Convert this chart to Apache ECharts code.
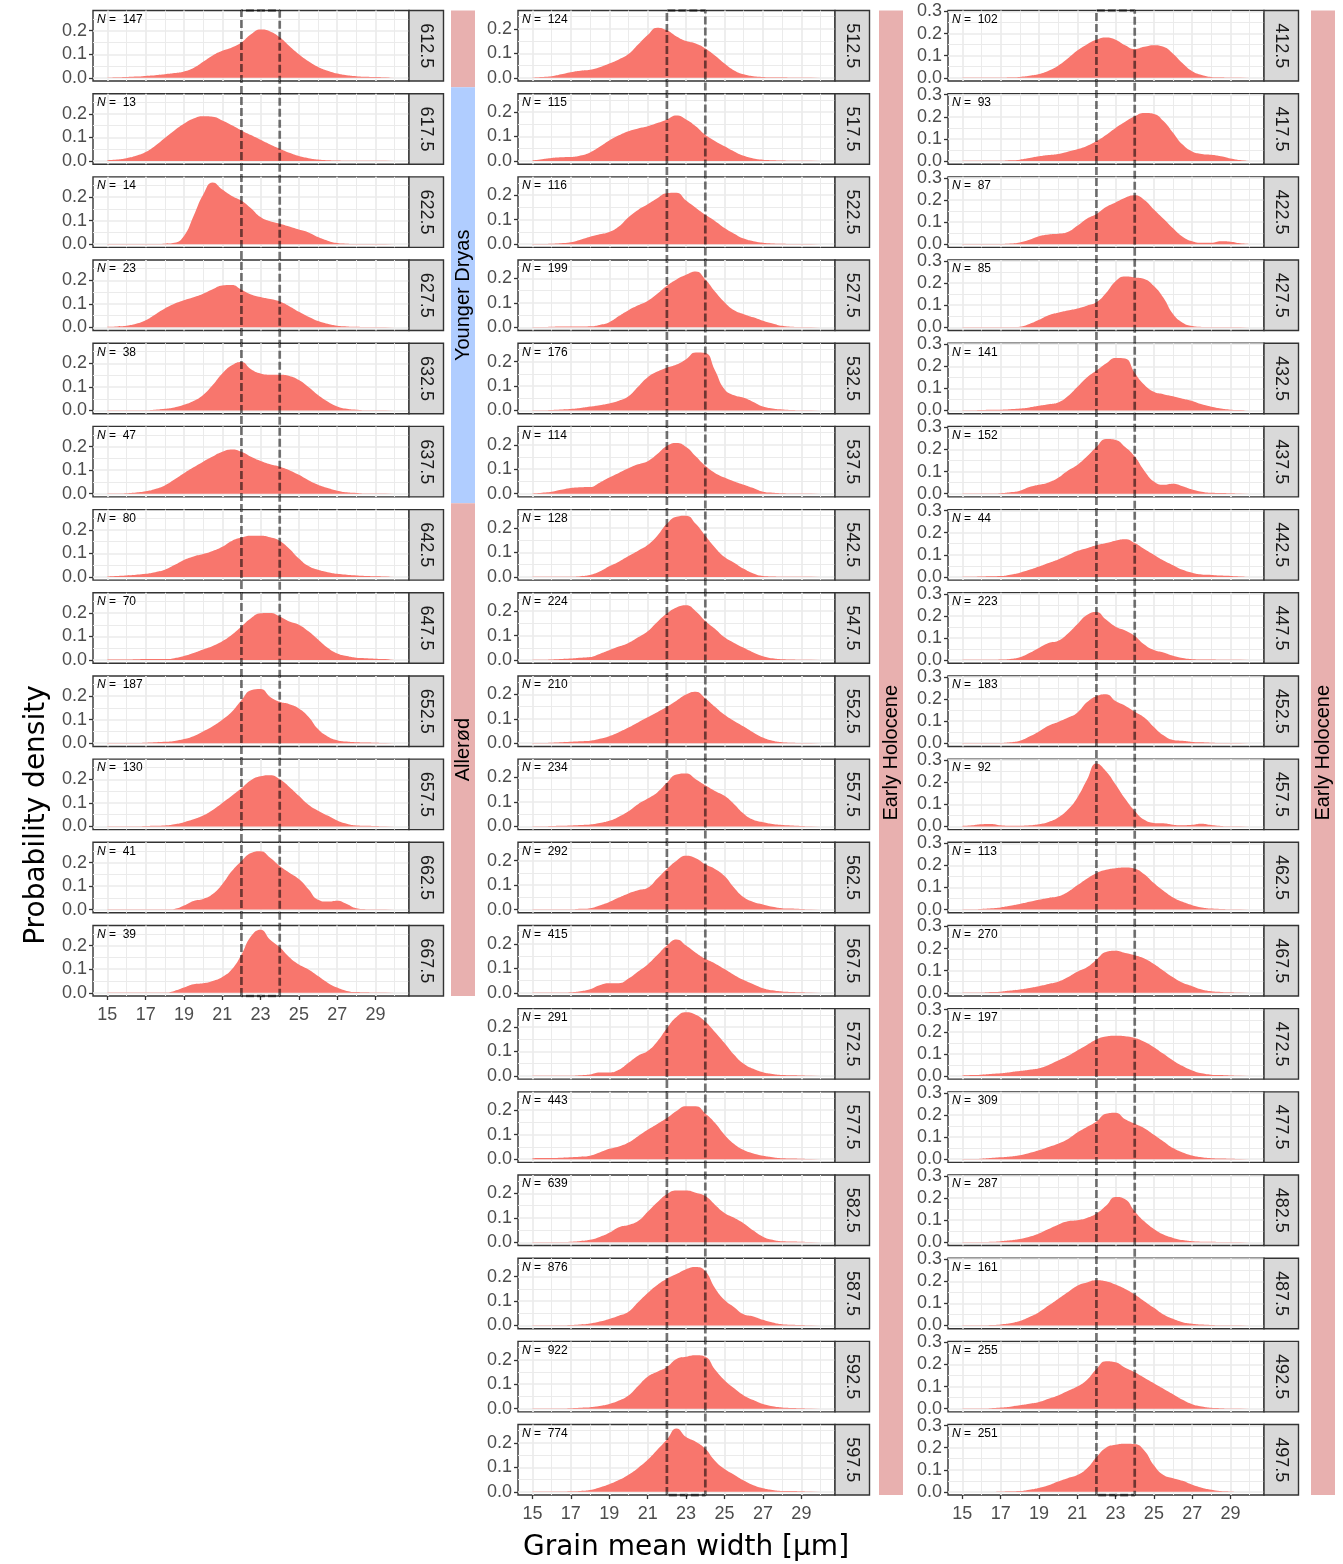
<!DOCTYPE html>
<html>
<head>
<meta charset="utf-8">
<title>Grain mean width densities</title>
<script src="https://cdn.jsdelivr.net/npm/echarts@6/dist/echarts.min.js"></script>
<style>
  html, body { margin: 0; padding: 0; background: #fff; }
  #chart { width: 1343px; height: 1564px; }
</style>
</head>
<body>
<div id="chart"></div>
<script>
// x positions of the density estimates (grain mean width, µm)
var xGrid = [15,15.5,16,16.5,17,17.5,18,18.5,19,19.5,20,20.5,21,21.5,22,22.5,23,23.5,24,24.5,25,25.5,26,26.5,27,27.5,28,28.5,29,29.5,30];

// left column: 612.5 - 667.5
var d612_5 = [0.001,0.002,0.003,0.005,0.008,0.011,0.015,0.020,0.027,0.042,0.068,0.095,0.115,0.129,0.150,0.185,0.205,0.197,0.172,0.135,0.100,0.070,0.046,0.030,0.018,0.011,0.007,0.004,0.003,0.002,0.001];
var d617_5 = [0.003,0.006,0.012,0.022,0.038,0.065,0.098,0.130,0.158,0.180,0.190,0.188,0.172,0.152,0.130,0.110,0.090,0.070,0.052,0.035,0.021,0.012,0.006,0.003,0.002,0.001,0.001,0.001,0.001,0.001,0.001];
var d622_5 = [0.001,0.001,0.001,0.001,0.001,0.001,0.002,0.006,0.035,0.120,0.210,0.262,0.232,0.205,0.185,0.153,0.115,0.097,0.087,0.075,0.062,0.050,0.030,0.015,0.005,0.002,0.001,0.001,0.001,0.001,0.001];
var d627_5 = [0.002,0.004,0.007,0.015,0.030,0.055,0.080,0.100,0.115,0.128,0.143,0.162,0.178,0.180,0.160,0.140,0.129,0.120,0.110,0.090,0.066,0.045,0.027,0.015,0.007,0.004,0.002,0.001,0.001,0.001,0.001];
var d632_5 = [0.001,0.001,0.001,0.001,0.001,0.003,0.007,0.013,0.024,0.040,0.066,0.108,0.157,0.192,0.206,0.175,0.157,0.152,0.152,0.147,0.130,0.100,0.066,0.038,0.017,0.007,0.003,0.001,0.001,0.001,0.001];
var d637_5 = [0.001,0.001,0.002,0.005,0.010,0.020,0.035,0.060,0.087,0.112,0.136,0.158,0.178,0.188,0.178,0.157,0.139,0.125,0.115,0.100,0.080,0.057,0.038,0.024,0.013,0.006,0.003,0.001,0.001,0.001,0.001];
var d642_5 = [0.002,0.004,0.006,0.009,0.013,0.020,0.030,0.050,0.072,0.087,0.097,0.110,0.128,0.153,0.167,0.175,0.175,0.168,0.153,0.120,0.078,0.046,0.030,0.020,0.013,0.009,0.006,0.004,0.003,0.002,0.001];
var d647_5 = [0.002,0.002,0.002,0.003,0.004,0.005,0.004,0.008,0.017,0.030,0.045,0.060,0.080,0.108,0.143,0.178,0.199,0.200,0.185,0.164,0.150,0.122,0.087,0.052,0.028,0.017,0.010,0.008,0.006,0.004,0.003];
var d652_5 = [0.001,0.001,0.001,0.001,0.002,0.004,0.006,0.010,0.018,0.030,0.050,0.072,0.100,0.134,0.183,0.225,0.230,0.197,0.176,0.166,0.148,0.113,0.060,0.029,0.013,0.007,0.004,0.003,0.002,0.001,0.001];
var d657_5 = [0.001,0.001,0.001,0.001,0.002,0.003,0.004,0.009,0.018,0.030,0.046,0.070,0.100,0.130,0.162,0.196,0.213,0.217,0.200,0.168,0.130,0.092,0.067,0.046,0.025,0.011,0.004,0.003,0.002,0.001,0.001];
var d662_5 = [0.001,0.001,0.001,0.001,0.001,0.001,0.001,0.003,0.017,0.037,0.045,0.066,0.108,0.164,0.206,0.240,0.248,0.220,0.185,0.157,0.130,0.087,0.042,0.034,0.038,0.024,0.006,0.002,0.001,0.001,0.001];
var d667_5 = [0.001,0.001,0.001,0.001,0.001,0.001,0.001,0.008,0.022,0.036,0.040,0.050,0.067,0.100,0.162,0.240,0.268,0.225,0.193,0.151,0.120,0.099,0.071,0.043,0.022,0.008,0.003,0.002,0.001,0.001,0.001];

// middle column: 512.5 - 597.5
var d512_5 = [0.001,0.003,0.006,0.014,0.023,0.029,0.033,0.043,0.058,0.075,0.097,0.136,0.175,0.205,0.194,0.169,0.150,0.140,0.120,0.091,0.058,0.030,0.014,0.006,0.003,0.002,0.002,0.001,0.001,0.001,0.001];
var d517_5 = [0.002,0.007,0.012,0.015,0.016,0.022,0.035,0.058,0.084,0.105,0.122,0.133,0.142,0.155,0.170,0.186,0.170,0.142,0.107,0.082,0.060,0.039,0.021,0.010,0.005,0.003,0.002,0.001,0.001,0.001,0.001];
var d522_5 = [0.001,0.001,0.002,0.004,0.008,0.018,0.030,0.040,0.050,0.072,0.110,0.140,0.163,0.188,0.208,0.210,0.178,0.149,0.120,0.095,0.066,0.043,0.023,0.012,0.006,0.003,0.002,0.001,0.001,0.001,0.001];
var d527_5 = [0.001,0.001,0.002,0.003,0.003,0.003,0.004,0.010,0.021,0.046,0.070,0.090,0.108,0.137,0.170,0.196,0.215,0.228,0.196,0.147,0.103,0.070,0.054,0.041,0.027,0.016,0.006,0.002,0.001,0.001,0.001];
var d532_5 = [0.001,0.001,0.002,0.004,0.006,0.010,0.016,0.022,0.029,0.040,0.058,0.097,0.136,0.159,0.175,0.188,0.210,0.237,0.235,0.165,0.087,0.062,0.052,0.035,0.016,0.008,0.004,0.002,0.001,0.001,0.001];
var d537_5 = [0.001,0.004,0.008,0.016,0.023,0.026,0.027,0.045,0.066,0.085,0.104,0.120,0.133,0.162,0.195,0.207,0.191,0.153,0.114,0.085,0.066,0.050,0.037,0.023,0.008,0.004,0.002,0.001,0.001,0.001,0.001];
var d542_5 = [0.001,0.001,0.001,0.001,0.001,0.003,0.008,0.022,0.043,0.062,0.085,0.107,0.130,0.168,0.217,0.246,0.250,0.217,0.168,0.120,0.081,0.058,0.033,0.014,0.004,0.002,0.001,0.001,0.001,0.001,0.001];
var d547_5 = [0.001,0.001,0.002,0.004,0.006,0.009,0.012,0.025,0.040,0.055,0.070,0.093,0.118,0.156,0.190,0.215,0.224,0.200,0.160,0.128,0.093,0.070,0.050,0.031,0.016,0.007,0.003,0.002,0.001,0.001,0.001];
var d552_5 = [0.001,0.001,0.002,0.004,0.006,0.008,0.010,0.018,0.029,0.045,0.064,0.085,0.106,0.127,0.149,0.174,0.199,0.210,0.183,0.149,0.116,0.091,0.068,0.044,0.023,0.010,0.004,0.002,0.001,0.001,0.001];
var d557_5 = [0.001,0.001,0.002,0.003,0.004,0.006,0.008,0.014,0.023,0.040,0.062,0.091,0.114,0.139,0.178,0.212,0.216,0.193,0.168,0.145,0.125,0.091,0.052,0.027,0.017,0.010,0.006,0.004,0.002,0.001,0.001];
var d562_5 = [0.001,0.001,0.001,0.001,0.001,0.003,0.006,0.017,0.031,0.049,0.066,0.079,0.089,0.127,0.166,0.200,0.220,0.210,0.185,0.166,0.137,0.089,0.050,0.031,0.021,0.012,0.006,0.004,0.002,0.001,0.001];
var d567_5 = [0.001,0.001,0.001,0.001,0.002,0.006,0.014,0.031,0.039,0.039,0.058,0.087,0.116,0.154,0.193,0.218,0.193,0.164,0.139,0.120,0.097,0.073,0.052,0.035,0.019,0.010,0.005,0.003,0.002,0.001,0.001];
var d572_5 = [0.001,0.001,0.001,0.001,0.001,0.003,0.006,0.014,0.014,0.025,0.054,0.083,0.102,0.141,0.195,0.241,0.260,0.250,0.222,0.180,0.135,0.087,0.050,0.029,0.015,0.008,0.004,0.003,0.002,0.001,0.001];
var d577_5 = [0.004,0.005,0.005,0.006,0.008,0.010,0.014,0.027,0.042,0.052,0.068,0.094,0.120,0.144,0.168,0.197,0.216,0.216,0.187,0.149,0.100,0.062,0.037,0.023,0.014,0.008,0.004,0.003,0.002,0.001,0.001];
var d582_5 = [0.001,0.001,0.001,0.001,0.002,0.005,0.010,0.022,0.039,0.062,0.071,0.087,0.125,0.164,0.197,0.212,0.212,0.203,0.189,0.154,0.120,0.100,0.077,0.048,0.023,0.010,0.004,0.003,0.002,0.001,0.001];
var d587_5 = [0.001,0.001,0.001,0.001,0.002,0.004,0.008,0.016,0.027,0.040,0.056,0.095,0.133,0.166,0.191,0.210,0.230,0.239,0.222,0.153,0.104,0.075,0.046,0.037,0.023,0.012,0.005,0.003,0.002,0.001,0.001];
var d592_5 = [0.001,0.001,0.001,0.001,0.002,0.004,0.006,0.011,0.019,0.033,0.054,0.093,0.131,0.151,0.170,0.203,0.212,0.218,0.212,0.160,0.116,0.083,0.054,0.035,0.019,0.010,0.005,0.003,0.002,0.001,0.001];
var d597_5 = [0.001,0.001,0.001,0.001,0.002,0.004,0.008,0.018,0.031,0.048,0.070,0.098,0.131,0.172,0.214,0.259,0.224,0.205,0.176,0.127,0.093,0.070,0.046,0.027,0.015,0.008,0.004,0.003,0.002,0.001,0.001];

// right column: 412.5 - 497.5
var d412_5 = [0.001,0.001,0.001,0.001,0.001,0.002,0.004,0.009,0.017,0.032,0.055,0.087,0.123,0.151,0.172,0.182,0.172,0.147,0.130,0.140,0.147,0.140,0.109,0.066,0.030,0.013,0.004,0.002,0.001,0.001,0.001];
var d417_5 = [0.001,0.001,0.001,0.001,0.001,0.003,0.006,0.013,0.021,0.027,0.032,0.042,0.053,0.068,0.089,0.117,0.149,0.177,0.202,0.217,0.213,0.181,0.128,0.074,0.043,0.032,0.028,0.021,0.011,0.004,0.002];
var d422_5 = [0.001,0.001,0.001,0.001,0.001,0.003,0.008,0.020,0.036,0.044,0.047,0.055,0.083,0.115,0.136,0.168,0.189,0.210,0.221,0.200,0.157,0.115,0.072,0.034,0.013,0.006,0.006,0.013,0.011,0.004,0.001];
var d427_5 = [0.001,0.001,0.001,0.001,0.001,0.001,0.003,0.015,0.034,0.055,0.066,0.076,0.085,0.098,0.113,0.155,0.209,0.230,0.226,0.219,0.187,0.134,0.060,0.021,0.006,0.002,0.001,0.001,0.001,0.001,0.001];
var d432_5 = [0.001,0.001,0.002,0.003,0.004,0.006,0.009,0.014,0.021,0.028,0.036,0.064,0.106,0.149,0.181,0.213,0.238,0.235,0.170,0.117,0.085,0.074,0.064,0.053,0.043,0.028,0.017,0.009,0.004,0.002,0.001];
var d437_5 = [0.001,0.001,0.001,0.001,0.002,0.006,0.013,0.030,0.040,0.051,0.072,0.104,0.130,0.168,0.211,0.247,0.243,0.211,0.168,0.104,0.055,0.040,0.045,0.034,0.019,0.009,0.004,0.003,0.002,0.001,0.001];
var d442_5 = [0.001,0.001,0.002,0.003,0.004,0.010,0.019,0.032,0.047,0.063,0.079,0.098,0.117,0.130,0.143,0.153,0.164,0.170,0.153,0.126,0.100,0.074,0.053,0.032,0.019,0.011,0.009,0.006,0.004,0.002,0.001];
var d447_5 = [0.001,0.001,0.001,0.001,0.002,0.005,0.013,0.032,0.055,0.077,0.087,0.119,0.162,0.204,0.218,0.183,0.151,0.134,0.109,0.070,0.045,0.034,0.019,0.009,0.004,0.003,0.002,0.001,0.001,0.001,0.001];
var d452_5 = [0.001,0.001,0.001,0.001,0.001,0.004,0.011,0.030,0.053,0.079,0.096,0.115,0.138,0.185,0.213,0.222,0.191,0.170,0.143,0.117,0.074,0.036,0.015,0.011,0.006,0.004,0.002,0.001,0.001,0.001,0.001];
var d457_5 = [0.002,0.005,0.010,0.011,0.005,0.003,0.003,0.005,0.010,0.020,0.040,0.075,0.130,0.210,0.285,0.250,0.190,0.125,0.070,0.030,0.016,0.014,0.008,0.005,0.007,0.012,0.006,0.002,0.001,0.001,0.001];
var d462_5 = [0.001,0.002,0.003,0.006,0.010,0.017,0.025,0.035,0.045,0.053,0.060,0.080,0.110,0.140,0.165,0.180,0.187,0.190,0.185,0.160,0.120,0.085,0.055,0.035,0.020,0.010,0.005,0.003,0.002,0.001,0.001];
var d467_5 = [0.001,0.001,0.001,0.003,0.005,0.010,0.015,0.022,0.030,0.040,0.050,0.070,0.095,0.115,0.150,0.185,0.190,0.180,0.170,0.155,0.130,0.100,0.070,0.045,0.030,0.015,0.007,0.004,0.002,0.001,0.001];
var d472_5 = [0.002,0.004,0.006,0.009,0.012,0.017,0.022,0.028,0.035,0.050,0.070,0.090,0.115,0.140,0.165,0.178,0.182,0.180,0.172,0.155,0.130,0.100,0.070,0.045,0.025,0.012,0.006,0.004,0.002,0.001,0.001];
var d477_5 = [0.001,0.001,0.002,0.005,0.008,0.012,0.018,0.028,0.040,0.055,0.070,0.090,0.120,0.145,0.170,0.205,0.210,0.180,0.160,0.140,0.110,0.080,0.050,0.030,0.016,0.008,0.004,0.003,0.002,0.001,0.001];
var d482_5 = [0.001,0.001,0.001,0.002,0.005,0.009,0.015,0.025,0.040,0.060,0.080,0.095,0.100,0.110,0.130,0.165,0.205,0.195,0.140,0.095,0.060,0.035,0.020,0.010,0.005,0.003,0.002,0.001,0.001,0.001,0.001];
var d487_5 = [0.001,0.001,0.001,0.002,0.005,0.010,0.020,0.038,0.060,0.090,0.120,0.150,0.180,0.195,0.205,0.200,0.185,0.165,0.140,0.110,0.080,0.050,0.030,0.015,0.008,0.004,0.002,0.001,0.001,0.001,0.001];
var d492_5 = [0.001,0.001,0.001,0.002,0.005,0.009,0.015,0.022,0.030,0.045,0.060,0.080,0.100,0.130,0.180,0.215,0.210,0.185,0.165,0.140,0.115,0.090,0.065,0.040,0.020,0.010,0.004,0.002,0.001,0.001,0.001];
var d497_5 = [0.001,0.001,0.001,0.001,0.002,0.003,0.004,0.010,0.018,0.030,0.047,0.062,0.076,0.106,0.157,0.200,0.213,0.218,0.216,0.187,0.120,0.076,0.062,0.050,0.032,0.019,0.010,0.004,0.002,0.001,0.001];

// panel labels (depth) and sample sizes
var depthsLeft  = ['612.5','617.5','622.5','627.5','632.5','637.5','642.5','647.5','652.5','657.5','662.5','667.5'];
var countsLeft  = [147, 13, 14, 23, 38, 47, 80, 70, 187, 130, 41, 39];
var depthsMid   = ['512.5','517.5','522.5','527.5','532.5','537.5','542.5','547.5','552.5','557.5','562.5','567.5','572.5','577.5','582.5','587.5','592.5','597.5'];
var countsMid   = [124, 115, 116, 199, 176, 114, 128, 224, 210, 234, 292, 415, 291, 443, 639, 876, 922, 774];
var depthsRight = ['412.5','417.5','422.5','427.5','432.5','437.5','442.5','447.5','452.5','457.5','462.5','467.5','472.5','477.5','482.5','487.5','492.5','497.5'];
var countsRight = [102, 93, 87, 85, 141, 152, 44, 223, 183, 92, 113, 270, 197, 309, 287, 161, 255, 251];

var densLeft  = [d612_5, d617_5, d622_5, d627_5, d632_5, d637_5, d642_5, d647_5, d652_5, d657_5, d662_5, d667_5];
var densMid   = [d512_5, d517_5, d522_5, d527_5, d532_5, d537_5, d542_5, d547_5, d552_5, d557_5, d562_5, d567_5, d572_5, d577_5, d582_5, d587_5, d592_5, d597_5];
var densRight = [d412_5, d417_5, d422_5, d427_5, d432_5, d437_5, d442_5, d447_5, d452_5, d457_5, d462_5, d467_5, d472_5, d477_5, d482_5, d487_5, d492_5, d497_5];

// climatic periods: [name, first panel, last panel]
var periodsLeft  = [['Early Holocene', 0, 0], ['Younger Dryas', 1, 5], ['Allerød', 6, 11]];
var periodsMid   = [['Early Holocene', 0, 17]];
var periodsRight = [['Early Holocene', 0, 17]];

// axis breaks
var xTicks = [15, 17, 19, 21, 23, 25, 27, 29];
var xMinor = [16, 18, 20, 22, 24, 26, 28, 30];
var yTicksShort = [0, 0.1, 0.2];
var yTicksTall  = [0, 0.1, 0.2, 0.3];
var yMinor = [0.05, 0.15, 0.25];
var boxX = [22, 24];   // dashed reference band

// ---- layout ----
var TOP = 10.5, STEP = 83.18, PH = 70.5, STRIP_W = 34.5, BAR_W = 24;
var XMIN = 14.25, XMAX = 30.75;
var TICK_FONT = 'Liberation Sans, Arial, sans-serif';
var TITLE_FONT = 'DejaVu Sans, sans-serif';
var periodColor = { 'Early Holocene': '#E8B0AF', 'Allerød': '#E8B0AF', 'Younger Dryas': '#B0CDFF' };

var columns = [
  { depths: depthsLeft,  counts: countsLeft,  dens: densLeft,  periods: periodsLeft,  left: 93,  width: 316, barLeft: 451, yMin: -0.0136, yMax: 0.286,  yTicks: yTicksShort },
  { depths: depthsMid,   counts: countsMid,   dens: densMid,   periods: periodsMid,   left: 518, width: 317, barLeft: 879, yMin: -0.0131, yMax: 0.2751, yTicks: yTicksShort },
  { depths: depthsRight, counts: countsRight, dens: densRight, periods: periodsRight, left: 948, width: 316, barLeft: 1311, yMin: -0.0145, yMax: 0.3045, yTicks: yTicksTall }
];

var grids = [], xAxes = [], yAxes = [], series = [], graphics = [];
var tickLine = { color: '#333333', width: 1.3 };

function gridMarks(yTicks) {
  var d = [];
  xMinor.forEach(function (v) { d.push({ xAxis: v, lineStyle: { width: 1.0 } }); });
  xTicks.forEach(function (v) { d.push({ xAxis: v, lineStyle: { width: 1.7 } }); });
  yMinor.forEach(function (v) { d.push({ yAxis: v, lineStyle: { width: 1.0 } }); });
  yTicks.forEach(function (v) { d.push({ yAxis: v, lineStyle: { width: 1.7 } }); });
  return d;
}

columns.forEach(function (col) {
  var n = col.depths.length;
  col.depths.forEach(function (depth, k) {
    var gi = grids.length;
    var top = TOP + STEP * k;
    var bottomPanel = (k === n - 1);
    grids.push({ left: col.left, top: top, width: col.width, height: PH, show: true,
      backgroundColor: '#fff', borderColor: '#333333', borderWidth: 1.4, containLabel: false, outerBoundsMode: 'none' });
    xAxes.push({ gridIndex: gi, type: 'value', min: XMIN, max: XMAX,
      axisLine: { show: false, onZero: false }, splitLine: { show: false },
      axisTick: { show: bottomPanel, customValues: xTicks, length: 4, lineStyle: tickLine },
      axisLabel: { show: bottomPanel, customValues: xTicks, margin: 10, fontSize: 18, color: '#4d4d4d', fontFamily: TICK_FONT } });
    yAxes.push({ gridIndex: gi, type: 'value', min: col.yMin, max: col.yMax,
      axisLine: { show: false, onZero: false }, splitLine: { show: false },
      axisTick: { show: true, customValues: col.yTicks, length: 4, lineStyle: tickLine },
      axisLabel: { customValues: col.yTicks, margin: 6, fontSize: 18, color: '#4d4d4d', fontFamily: TICK_FONT,
        formatter: function (v) { return v.toFixed(1); } } });
    // background grid lines
    series.push({ type: 'line', xAxisIndex: gi, yAxisIndex: gi, data: [[XMIN, 0]], symbol: 'none',
      lineStyle: { opacity: 0 }, silent: true, z: 1,
      markLine: { silent: true, symbol: ['none', 'none'], label: { show: false }, z: 1,
        lineStyle: { color: '#EBEBEB', type: 'solid' }, emphasis: { disabled: true },
        data: gridMarks(col.yTicks) } });
    // density area
    series.push({ type: 'line', xAxisIndex: gi, yAxisIndex: gi, z: 5, silent: true,
      data: xGrid.map(function (x, j) { return [x, col.dens[k][j]]; }),
      smooth: 0.5, symbol: 'none', lineStyle: { width: 0 },
      areaStyle: { color: '#F8766D', opacity: 1 } });

    // facet strip
    graphics.push({ type: 'rect', z: 20, shape: { x: col.left + col.width, y: top, width: STRIP_W, height: PH },
      style: { fill: '#D9D9D9', stroke: '#333333', lineWidth: 1.4 } });
    graphics.push({ type: 'text', z: 21, x: col.left + col.width + STRIP_W / 2, y: top + PH / 2, rotation: -Math.PI / 2,
      style: { text: depth, fontSize: 18, fontFamily: TICK_FONT, fill: '#1A1A1A', align: 'center', verticalAlign: 'middle' } });
    // sample size label
    graphics.push({ type: 'text', z: 21, x: col.left + 4, y: top + 3,
      style: { text: '{n|N} =  ' + col.counts[k], fontSize: 12, fontFamily: TICK_FONT, fill: '#000',
        align: 'left', verticalAlign: 'top',
        rich: { n: { fontStyle: 'italic', fontSize: 12, fontFamily: TICK_FONT, fill: '#000' } } } });
  });

  // period bars
  col.periods.forEach(function (p) {
    var y0 = p[1] === 0 ? TOP : TOP + STEP * p[1] - (STEP - PH) / 2;
    var y1 = p[2] === n - 1 ? TOP + STEP * p[2] + PH : TOP + STEP * p[2] + PH + (STEP - PH) / 2;
    graphics.push({ type: 'rect', z: 20, shape: { x: col.barLeft, y: y0, width: BAR_W, height: y1 - y0 },
      style: { fill: periodColor[p[0]] } });
    if (p[2] > p[1]) {
      graphics.push({ type: 'text', z: 21, x: col.barLeft + BAR_W / 2, y: (y0 + y1) / 2, rotation: Math.PI / 2,
        style: { text: p[0], fontSize: 20, fontFamily: TICK_FONT, fill: '#000', align: 'center', verticalAlign: 'middle' } });
    }
  });

  // dashed band over the whole column
  var gi = grids.length;
  grids.push({ left: col.left, top: TOP, width: col.width, height: STEP * (n - 1) + PH, show: false, containLabel: false, outerBoundsMode: 'none' });
  xAxes.push({ gridIndex: gi, type: 'value', min: XMIN, max: XMAX, show: false });
  yAxes.push({ gridIndex: gi, type: 'value', min: 0, max: 1, show: false });
  series.push({ type: 'line', xAxisIndex: gi, yAxisIndex: gi, z: 30, silent: true, clip: false, symbol: 'none',
    data: [[boxX[0], 0], [boxX[0], 1], [boxX[1], 1], [boxX[1], 0], [boxX[0], 0]],
    lineStyle: { color: 'rgba(0,0,0,0.55)', width: 2.7, type: [8, 3] } });
});

// axis titles
graphics.push({ type: 'text', z: 21, x: 686, y: 1548,
  style: { text: 'Grain mean width [µm]', fontSize: 28, fontFamily: TITLE_FONT, fill: '#000', align: 'center', verticalAlign: 'middle' } });
graphics.push({ type: 'text', z: 21, x: 37, y: 815, rotation: Math.PI / 2,
  style: { text: 'Probability density', fontSize: 28, fontFamily: TITLE_FONT, fill: '#000', align: 'center', verticalAlign: 'middle' } });

var chart = echarts.init(document.getElementById('chart'), null, { renderer: 'canvas' });
chart.setOption({
  animation: false,
  backgroundColor: '#fff',
  grid: grids,
  xAxis: xAxes,
  yAxis: yAxes,
  series: series,
  graphic: { elements: graphics }
});
</script>
</body>
</html>
